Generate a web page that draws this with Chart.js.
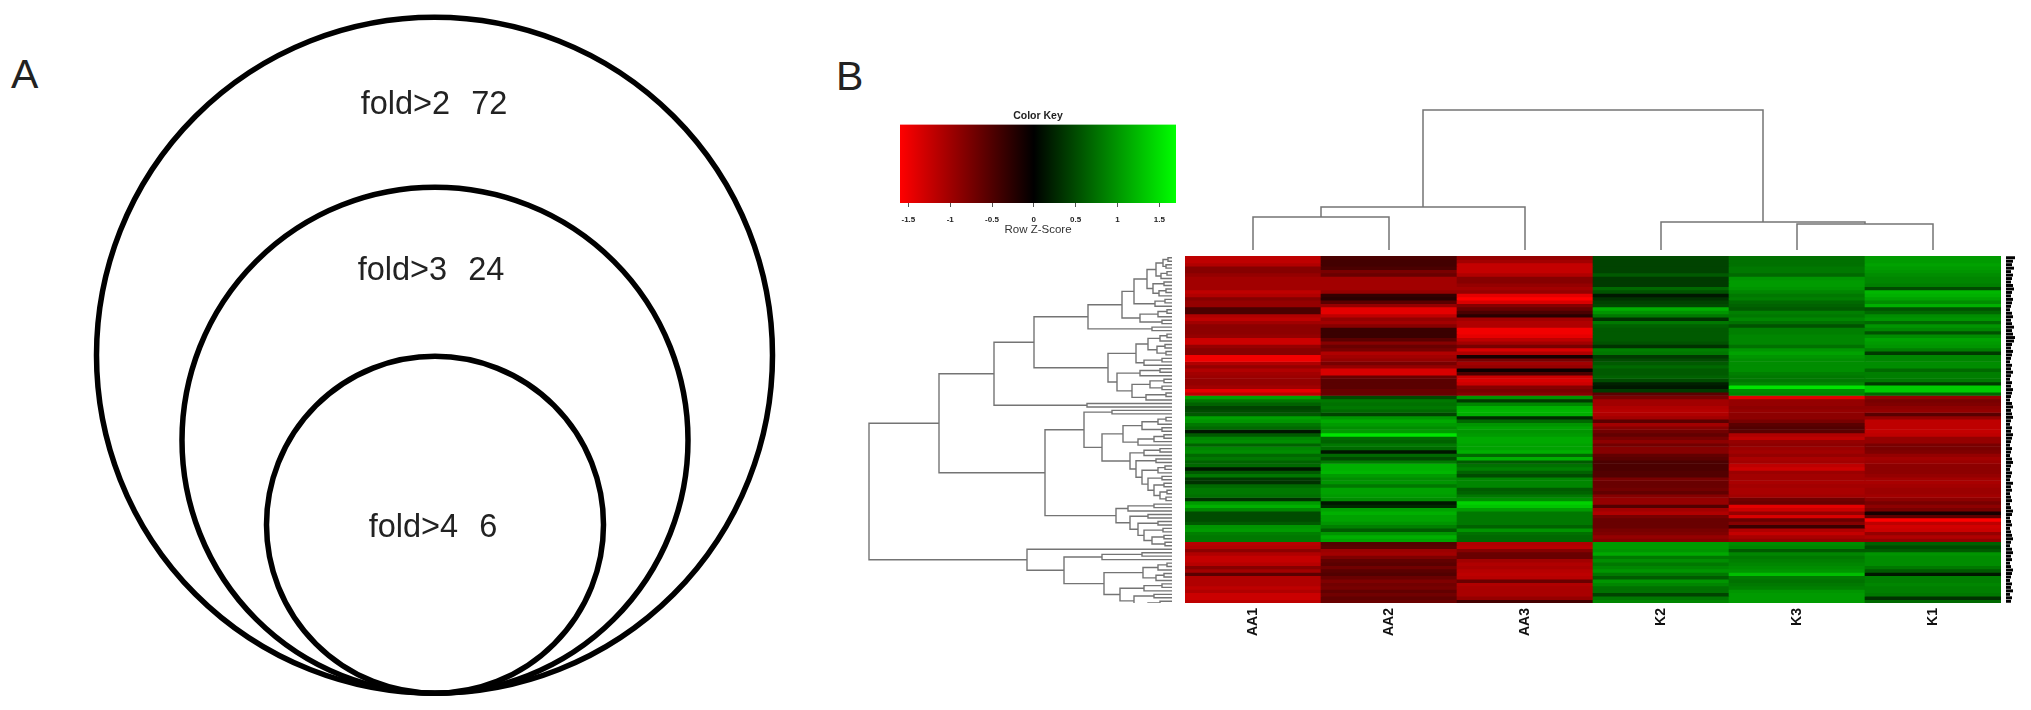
<!DOCTYPE html>
<html>
<head>
<meta charset="utf-8">
<title>Fold change circles and heatmap</title>
<script src="https://cdn.jsdelivr.net/npm/chart.js@4"></script>
<style>
  html, body { margin: 0; background: #fff; }
  #page { position: relative; width: 2031px; height: 710px; overflow: hidden; }
  canvas { position: absolute; }
  .soft { filter: blur(0.7px); }
  .panel { position: absolute; font: 41px "Liberation Sans", Arial, sans-serif; color: #222; line-height: 41px; }
</style>
</head>
<body>
<div id="page">
  <div class="panel" style="left:11px;top:54px">A</div>
  <div class="panel" style="left:836px;top:56px">B</div>
  <canvas id="foldChart" width="900" height="710" style="left:0;top:0;filter:blur(0.4px)"></canvas>
  <canvas id="keyChart" class="soft" width="320" height="140" style="left:880px;top:100px"></canvas>
  <canvas id="colTreeChart" class="soft" width="816" height="150" style="left:1185px;top:100px"></canvas>
  <canvas id="rowTreeChart" class="soft" width="312" height="347" style="left:860px;top:256px"></canvas>
  <canvas id="heatChart" width="816" height="400" style="left:1185px;top:256px;filter:blur(0.6px)"></canvas>
  <canvas id="inkChart" class="soft" width="20" height="347" style="left:2006px;top:256px"></canvas>
</div>
<script>
// Panel A, nested circles
const foldLabels = ['fold>2  72', 'fold>3  24', 'fold>4  6'];
const foldCenterX = [434.5, 435, 435];
const foldCenterY = [355.25, 440.25, 524.75];
const foldRadius = [338, 253, 168.5];
const foldLabelX = [434, 431, 433];
const foldLabelY = [105, 271, 528];

// Panel B, heatmap values (row z scores, top row first)
const columns = ['AA1', 'AA2', 'AA3', 'K2', 'K3', 'K1'];
const zAA1 = [
  -1.2,-1.2,-1.1,-0.8,-0.8,-0.9,-1.0,-1.0,-1.0,-1.0,-1.2,-1.1,-0.8,-0.9,-0.9,-0.4,-0.4,-1.1,-1.2,-1.0,-0.85,-0.85,-0.85,-0.9,-1.3,-1.3,-0.9,-0.8,-0.8,-1.6,-1.6,-1.1,-0.9,-1.1,
  -1.0,-0.95,-0.9,-0.9,-1.0,-1.5,-1.2,1.0,0.7,0.55,0.35,0.4,0.5,1.0,0.9,0.7,0.6,0.1,0.5,0.8,0.85,0.55,0.8,0.85,0.6,0.7,0.55,0.6,0.1,0.5,0.7,0.3,0.25,0.6,
  0.7,0.7,0.65,0.25,0.95,1.1,0.8,0.4,0.4,0.4,0.5,0.9,0.95,0.75,0.7,0.7,-1.15,-1.1,-0.85,-1.1,-1.25,-1.25,-1.15,-0.8,-1.0,-0.5,-1.1,-1.1,-1.1,-1.2,-1.1,-1.3,-1.3,-1.2
];
const zAA2 = [
  -0.4,-0.35,-0.35,-0.4,-0.7,-0.6,-1.0,-1.0,-1.0,-1.0,-0.9,-0.25,-0.2,-0.5,-0.9,-1.5,-1.5,-1.2,-0.9,-1.0,-0.8,-0.3,-0.3,-0.3,-0.5,-0.8,-0.6,-0.7,-1.1,-1.0,-0.9,-0.7,-0.9,-1.4,
  -1.4,-0.6,-0.5,-0.5,-0.5,-0.6,-0.6,0.4,0.7,0.65,0.7,0.6,0.35,0.9,1.05,0.95,0.85,0.95,1.5,0.6,0.55,0.7,0.6,0.1,0.6,0.4,0.7,1.1,1.1,1.15,0.95,0.85,0.9,0.7,
  1.0,1.0,0.95,0.85,0.1,0.2,1.0,1.1,1.0,1.0,0.9,0.75,0.5,0.9,1.1,1.0,-0.45,-0.5,-0.95,-1.0,-0.75,-0.55,-0.5,-0.65,-0.5,-0.45,-0.6,-0.75,-0.65,-0.7,-0.55,-0.65,-0.55,-0.6
];
const zAA3 = [
  -0.9,-1.0,-1.25,-1.25,-1.25,-1.1,-0.8,-0.8,-0.9,-1.0,-0.9,-1.5,-1.7,-1.4,-0.8,-0.6,-0.4,-0.2,-1.0,-1.1,-1.1,-1.6,-1.6,-1.5,-1.2,-1.0,-0.7,-1.4,-1.1,-0.1,-0.7,-1.0,-0.9,-0.05,
  -0.4,-1.3,-1.4,-1.3,-0.8,-0.7,-0.8,0.9,0.3,0.8,1.1,1.15,1.1,0.2,0.6,0.9,1.0,0.9,0.95,1.05,1.05,1.0,1.0,1.1,0.6,1.1,0.5,0.65,0.75,0.55,0.4,0.8,0.8,0.8,
  0.5,0.55,0.7,0.85,1.35,1.25,0.95,0.7,0.7,0.7,0.7,0.55,0.9,0.65,0.6,0.6,-1.1,-1.15,-0.8,-0.6,-0.6,-1.0,-1.1,-1.05,-1.15,-1.2,-1.15,-0.6,-1.1,-1.05,-1.05,-1.05,-0.9,-0.35
];
const zK2 = [
  0.4,0.35,0.35,0.35,0.35,0.5,0.3,0.3,0.3,0.6,0.45,0.1,0.25,0.35,0.4,1.1,0.9,0.7,0.25,0.7,0.55,0.5,0.5,0.5,0.5,0.45,0.25,0.75,0.7,0.3,0.4,0.5,0.6,0.5,
  0.5,0.55,0.4,0.15,0.1,0.3,-0.5,-0.7,-1.0,-1.0,-1.1,-1.15,-1.1,-1.0,-0.5,-1.0,-0.8,-0.65,-0.55,-0.7,-0.85,-0.65,-0.8,-0.8,-0.55,-0.5,-0.4,-0.4,-0.4,-0.45,-0.45,-0.7,-0.6,-0.6,
  -0.65,-0.55,-0.8,-0.9,-0.9,-0.45,-1.0,-1.1,-0.7,-0.6,-0.6,-0.6,-0.7,-0.75,-0.9,-0.8,0.95,0.95,0.9,1.05,0.7,0.85,0.7,0.8,0.9,0.7,0.5,0.9,0.8,0.65,0.65,0.35,0.7,0.8
];
const zK3 = [
  0.65,0.65,0.65,0.7,0.7,0.6,0.9,0.95,0.95,0.9,0.8,0.7,0.75,0.6,0.55,0.5,0.75,0.7,0.8,0.65,0.45,0.75,0.75,0.8,0.8,0.8,0.65,0.9,1.0,0.9,0.85,0.85,0.85,0.85,
  0.75,0.7,0.7,0.8,1.5,0.85,0.8,-1.5,-0.9,-0.9,-0.85,-0.9,-0.85,-0.85,-0.7,-0.5,-0.45,-0.5,-1.1,-1.2,-0.9,-0.85,-0.95,-1.0,-0.9,-1.05,-1.0,-1.2,-1.3,-0.95,-1.0,-1.0,-1.05,-1.0,
  -1.05,-1.05,-1.0,-0.65,-0.6,-1.5,-1.3,-0.9,-1.4,-0.6,-0.8,-0.3,-1.1,-1.25,-1.05,-0.9,0.85,0.8,0.5,0.8,0.7,0.75,0.8,0.85,0.9,1.2,0.7,0.65,0.7,0.75,0.9,0.95,0.95,0.95
];
const zK1 = [
  0.95,0.95,1.0,0.95,0.9,0.85,0.8,0.8,0.75,0.4,1.15,1.1,1.0,0.85,1.1,0.45,0.6,0.85,0.9,0.6,0.9,0.8,0.45,0.85,1.0,0.95,0.9,0.75,0.3,0.8,0.8,0.85,0.85,0.6,
  0.75,0.75,0.7,0.3,1.3,1.3,0.6,-0.9,-0.7,-0.75,-0.85,-0.9,-0.5,-0.9,-1.2,-1.2,-1.2,-1.25,-1.2,-0.9,-0.9,-0.7,-0.7,-0.75,-0.9,-1.0,-0.95,-0.85,-0.85,-0.85,-0.9,-1.0,-1.05,-1.0,
  -0.95,-0.95,-1.0,-0.85,-0.7,-0.85,-0.7,-0.1,-0.5,-1.7,-1.2,-1.35,-1.3,-0.9,-1.1,-0.9,0.55,0.4,0.5,0.9,0.85,0.85,0.85,0.7,0.5,0.1,0.75,0.75,0.8,0.75,0.75,0.7,0.25,0.6
];
const zColumns = [zAA1, zAA2, zAA3, zK2, zK3, zK1];

// Colour key
const keyRange = [-1.6, 1.7];
const keyTicks = [-1.5, -1, -0.5, 0, 0.5, 1, 1.5];

// Column dendrogram as nested [height, left, right], 0 is a leaf
const colTree = [140, [43, [33, 0, 0], 0], [28, 0, [26, 0, 0]]];

// Row dendrogram, same notation, clades named from top to bottom
const cladeP = [84,
  [50,
    [38,
      [25, [16, [9, [4, 0, 0], [6, 0, 0]], [11, [5, 0, 0], 0]], [19, [8, 0, 0], [13, [6, 0, 0], 0]]],
      [17, [7, 0, 0], 0]],
    [32, [14, [5, 0, 0], 0], [10, 0, 0]]],
  [20, 0, 0]];
const cladeQ = [64,
  [36, [24, [12, [5, 0, 0], 0], [15, [7, 0, 0], [6, 0, 0]]], [28, [10, 0, 0], 0]],
  [55, [32, [12, 0, 0], 0], [40, [22, [8, 0, 0], [10, 0, 0]], [26, [6, 0, 0], 0]]]];
const cladeUp = [178, [138, cladeP, cladeQ], [85, 0, 0]];
const cladeFan = [42, [28, [12, 0, 0], 0], [36, [16, 0, 0], [30, [14, [7, 0, 0], 0], [24, [10, 0, 0], [18, [8, 0, 0], [12, [5, 0, 0], [6, 0, 0]]]]]]];
const cladeMid = [88, [60, 0, 0], [70,
  [49, [30, [14, [6, 0, 0], 0], [10, 0, 0]], [34, [18, [8, 0, 0], 0], 0]],
  cladeFan]];
const cladeLow = [56, [44, [18, 0, 0], 0], [42, [24, 0, 0], [34, [14, 0, 0], [28, [9, 0, 0], [20, [8, 0, 0], [7, 0, 0]]]]]];
const cladeEnd = [145, 0, [108, [70, [30, 0, 0], 0], [68,
  [29, [14, [5, 0, 0], 0], [16, [8, 0, 0], 0]],
  [52, [28, [10, 0, 0], 0], [38, [18, 0, 0], [24, [12, 0, 0], 0]]]]]];
const rowTree = [303, [233, cladeUp, [127, cladeMid, cladeLow]], cladeEnd];

// Row labels are too small to read, only their ink length is kept
const rowInk = [
  9,7,6,8,5,7,6,5,7,8,6,5,7,6,5,4,6,7,5,6,8,6,7,9,8,6,5,7,6,5,4,6,5,7,5,4,6,5,7,6,5,4,
  6,7,5,6,7,5,4,6,5,7,6,5,4,6,5,4,6,7,5,4,6,5,4,7,5,6,4,5,6,4,5,7,6,4,5,6,4,5,6,7,
  5,4,6,7,5,6,4,5,7,6,5,4,6,5,7,4,6,5
];

const fontFamily = '"Liberation Sans", Arial, sans-serif';
const lineColor = '#747474';

Chart.defaults.animation = false;
Chart.defaults.responsive = false;
Chart.defaults.events = [];
Chart.defaults.plugins.legend.display = false;
Chart.defaults.plugins.tooltip.enabled = false;

// Colour for a z score, black in the middle, lifted a little to match the print
function zColor(z) {
  const level = Math.min(255, Math.round(Math.pow(Math.abs(z) / 1.7, 0.85) * 255));
  return z < 0 ? `rgb(${level},0,0)` : `rgb(0,${level},0)`;
}

// Flatten a nested tree into line points, null points break the line
function treePoints(tree) {
  const points = [];
  let leaf = 0;
  function walk(node) {
    if (node === 0) return { pos: leaf++ + 0.5, h: 0 };
    const a = walk(node[1]);
    const b = walk(node[2]);
    points.push({ h: a.h, pos: a.pos }, { h: node[0], pos: a.pos }, { h: node[0], pos: b.pos }, { h: b.h, pos: b.pos }, { h: null, pos: null });
    return { pos: (a.pos + b.pos) / 2, h: node[0] };
  }
  walk(tree);
  return points;
}

// Draws the fold labels inside the circles
const foldLabelPlugin = {
  id: 'foldLabels',
  afterDatasetsDraw(chart) {
    const { ctx, scales } = chart;
    ctx.save();
    ctx.font = '32.5px ' + fontFamily;
    ctx.fillStyle = '#222';
    ctx.textAlign = 'center';
    ctx.textBaseline = 'middle';
    ctx.wordSpacing = '1.5px';
    foldLabels.forEach((label, i) => {
      ctx.fillText(label, scales.x.getPixelForValue(foldLabelX[i]), scales.y.getPixelForValue(foldLabelY[i]));
    });
    ctx.restore();
  }
};

new Chart(document.getElementById('foldChart'), {
  type: 'bubble',
  plugins: [foldLabelPlugin],
  data: {
    datasets: [{
      data: foldLabels.map((label, i) => ({ x: foldCenterX[i], y: foldCenterY[i], r: foldRadius[i] })),
      backgroundColor: 'transparent',
      borderColor: '#000',
      borderWidth: 5.5,
      clip: false
    }]
  },
  options: {
    layout: { autoPadding: false },
    scales: {
      x: { display: false, min: 0, max: 900 },
      y: { display: false, min: 0, max: 710, reverse: true }
    }
  }
});

new Chart(document.getElementById('keyChart'), {
  type: 'bar',
  data: {
    labels: ['Row Z-Score'],
    datasets: [{
      data: [keyRange],
      barPercentage: 1,
      categoryPercentage: 1,
      backgroundColor(context) {
        const { ctx, chartArea } = context.chart;
        if (!chartArea) return '#000';
        const g = ctx.createLinearGradient(chartArea.left, 0, chartArea.right, 0);
        g.addColorStop(0, '#ff0000');
        g.addColorStop(-keyRange[0] / (keyRange[1] - keyRange[0]), '#000000');
        g.addColorStop(1, '#00ff00');
        return g;
      }
    }]
  },
  options: {
    indexAxis: 'y',
    layout: { padding: { left: 20, right: 24 } },
    plugins: {
      title: {
        display: true,
        text: 'Color Key',
        color: '#222',
        font: { family: fontFamily, size: 10.5, weight: 'bold', lineHeight: 1.2 },
        padding: { top: 10, bottom: 2 }
      }
    },
    scales: {
      y: { display: false },
      x: {
        min: keyRange[0],
        max: keyRange[1],
        afterBuildTicks(scale) { scale.ticks = keyTicks.map(v => ({ value: v })); },
        afterFit(scale) { scale.height = 37; },
        border: { display: false },
        grid: { drawOnChartArea: false, tickLength: 4, tickColor: '#555' },
        ticks: {
          color: '#222',
          padding: 8,
          maxRotation: 0,
          autoSkip: false,
          font: { family: fontFamily, size: 8, weight: 'bold' },
          callback: v => String(v)
        },
        title: { display: true, text: 'Row Z-Score', color: '#333', padding: { top: 0, bottom: 3 }, font: { family: fontFamily, size: 11.5 } }
      }
    }
  }
});

new Chart(document.getElementById('colTreeChart'), {
  type: 'scatter',
  data: {
    datasets: [{
      data: treePoints(colTree).map(p => ({ x: p.pos, y: p.h })),
      showLine: true,
      pointRadius: 0,
      borderColor: lineColor,
      borderWidth: 1.5,
      clip: false
    }]
  },
  options: {
    scales: {
      x: { display: false, min: 0, max: columns.length },
      y: { display: false, min: 0, max: 150 }
    }
  }
});

new Chart(document.getElementById('rowTreeChart'), {
  type: 'scatter',
  data: {
    datasets: [{
      data: treePoints(rowTree).map(p => ({ x: p.h, y: p.pos })),
      showLine: true,
      pointRadius: 0,
      borderColor: lineColor,
      borderWidth: 1.4,
      clip: false
    }]
  },
  options: {
    scales: {
      x: { display: false, min: 0, max: 312, reverse: true },
      y: { display: false, min: 0, max: rowInk.length, reverse: true }
    }
  }
});

// One stacked dataset per heatmap row, each segment is one cell
new Chart(document.getElementById('heatChart'), {
  type: 'bar',
  data: {
    labels: columns,
    datasets: zAA1.map((_, row) => ({
      data: columns.map(() => 1),
      backgroundColor: zColumns.map(col => zColor(col[row])),
      borderWidth: 0,
      barPercentage: 1,
      categoryPercentage: 1
    }))
  },
  options: {
    scales: {
      x: {
        stacked: true,
        afterFit(scale) { scale.height = 53; },
        border: { display: false },
        grid: { display: false, drawTicks: false },
        ticks: { color: '#111', padding: 5, minRotation: 90, maxRotation: 90, font: { family: fontFamily, size: 14, weight: 'bold' } }
      },
      y: { display: false, stacked: true, min: 0, max: zAA1.length, reverse: true }
    }
  }
});

new Chart(document.getElementById('inkChart'), {
  type: 'bar',
  data: {
    labels: rowInk.map((_, i) => i + 1),
    datasets: [{ data: rowInk, backgroundColor: '#000', barPercentage: 0.85, categoryPercentage: 1 }]
  },
  options: {
    indexAxis: 'y',
    scales: {
      x: { display: false, min: 0, max: 20 },
      y: { display: false }
    }
  }
});
</script>
</body>
</html>
